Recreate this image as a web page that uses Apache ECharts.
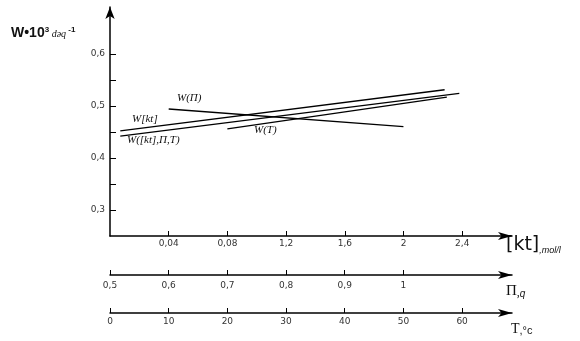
<!DOCTYPE html>
<html>
<head>
<meta charset="utf-8">
<script src="https://cdn.jsdelivr.net/npm/echarts@6/dist/echarts.min.js"></script>
<style>
  html, body { margin: 0; padding: 0; background: #fff; }
  #chart { width: 580px; height: 341px; }
</style>
</head>
<body>
<div id="chart"></div>
<script>
// Rate W (x10^3 dəq^-1) against catalyst concentration, pressure and temperature
const ktTicks = [0.4, 0.8, 1.2, 1.6, 2.0, 2.4];
const ktTickLabels = ['0,04', '0,08', '1,2', '1,6', '2', '2,4'];
const piTicks = [0.5, 0.6, 0.7, 0.8, 0.9, 1.0];
const piTickLabels = ['0,5', '0,6', '0,7', '0,8', '0,9', '1'];
const tTicks = [0, 10, 20, 30, 40, 50, 60];
const tTickLabels = ['0', '10', '20', '30', '40', '50', '60'];
const wTicks = [0.3, 0.35, 0.4, 0.45, 0.5, 0.55, 0.6];
const wLabelValues = [0.3, 0.4, 0.5, 0.6];

// each line as [x, W] pairs on its own horizontal scale
const wKt = [[0.07, 0.452], [2.28, 0.531]];          // W[kt]   on [kt] axis
const wCombined = [[0.07, 0.442], [2.38, 0.524]];    // W([kt],Π,T) on [kt] axis
const wPi = [[0.6, 0.494], [1.0, 0.460]];            // W(Π)    on Π axis
const wT = [[20, 0.456], [57.4, 0.517]];             // W(T)    on T axis

const axisFont = { fontFamily: 'DejaVu Sans', fontSize: 9, color: '#333' };
const lineStyle = { color: '#000', width: 1.5 };

function labelFrom(values, labels) {
  return v => {
    const i = values.findIndex(x => Math.abs(x - v) < 1e-6);
    return i >= 0 ? labels[i] : '';
  };
}

function bottomAxis(min, max, offset, ticks, labels, margin) {
  return {
    type: 'value', position: 'bottom', offset: offset, min: min, max: max,
    axisLine: { onZero: false, lineStyle: lineStyle, symbol: ['none', 'arrow'], symbolSize: [6, 14] },
    axisTick: { inside: true, length: 5, lineStyle: { color: '#000', width: 1 }, customValues: ticks },
    axisLabel: Object.assign({ margin: margin, customValues: ticks, formatter: labelFrom(ticks, labels) }, axisFont),
    splitLine: { show: false }
  };
}

const chart = echarts.init(document.getElementById('chart'), null, { renderer: 'canvas' });

function seriesLine(data, xi) {
  return {
    type: 'line', xAxisIndex: xi, data: data, symbol: 'none', silent: true,
    lineStyle: { color: '#000', width: 1.3 }
  };
}

chart.setOption({
  animation: false,
  backgroundColor: '#fff',
  grid: { left: 110, right: 68, top: 7, bottom: 105 },
  xAxis: [
    bottomAxis(0, 2.739, 0, ktTicks, ktTickLabels, 3),
    bottomAxis(0.5, 1.185, 39, piTicks, piTickLabels, 6),
    bottomAxis(0, 68.5, 77, tTicks, tTickLabels, 4)
  ],
  yAxis: {
    type: 'value', min: 0.25, max: 0.69,
    axisLine: { show: true, lineStyle: lineStyle, symbol: ['none', 'arrow'], symbolSize: [7, 12] },
    axisTick: { inside: true, length: 6, lineStyle: { color: '#000', width: 1 }, customValues: wTicks },
    axisLabel: Object.assign({
      margin: 5, customValues: wLabelValues,
      formatter: v => v.toFixed(1).replace('.', ',')
    }, axisFont),
    splitLine: { show: false }
  },
  series: [
    seriesLine(wKt, 0),
    seriesLine(wCombined, 0),
    seriesLine(wPi, 1),
    seriesLine(wT, 2)
  ],
  graphic: [
    // y-axis title
    { type: 'text', left: 11, top: 26, style: {
      text: '{b|W•10}{s|3}{u| dəq}{s| -1}',
      rich: {
        b: { fontFamily: 'Liberation Sans', fontWeight: 'bold', fontSize: 14, fill: '#111', verticalAlign: 'bottom' },
        s: { fontFamily: 'Liberation Sans', fontWeight: 'bold', fontSize: 8, fill: '#111', verticalAlign: 'top', padding: [0, 0, 6, 0] },
        u: { fontFamily: 'Liberation Serif', fontStyle: 'italic', fontSize: 10, fill: '#111', verticalAlign: 'bottom', padding: [0, 0, 1, 0] }
      }
    } },
    // horizontal axis names
    { type: 'text', left: 506, top: 236, style: {
      text: '{a|[kt]}{b|,mol/l}',
      rich: {
        a: { fontFamily: 'DejaVu Sans', fontSize: 19, fill: '#111', verticalAlign: 'bottom' },
        b: { fontFamily: 'Liberation Sans', fontStyle: 'italic', fontSize: 9, fill: '#111', verticalAlign: 'bottom' }
      }
    } },
    { type: 'text', left: 506, top: 284, style: {
      text: '{a|Π}{b|,}{c|q}',
      rich: {
        a: { fontFamily: 'Liberation Serif', fontSize: 15, fill: '#111', verticalAlign: 'bottom' },
        b: { fontFamily: 'Liberation Serif', fontSize: 12, fill: '#111', verticalAlign: 'bottom' },
        c: { fontFamily: 'Liberation Sans', fontStyle: 'italic', fontSize: 10, fill: '#111', verticalAlign: 'bottom' }
      }
    } },
    { type: 'text', left: 511, top: 322, style: {
      text: '{a|T}{b|,°c}',
      rich: {
        a: { fontFamily: 'Liberation Serif', fontSize: 14, fill: '#111', verticalAlign: 'bottom' },
        b: { fontFamily: 'Liberation Sans', fontSize: 11, fill: '#111', verticalAlign: 'bottom' }
      }
    } },
    // line captions
    { type: 'text', left: 177, top: 93, style: { text: 'W(Π)', font: 'italic 11px "Liberation Serif"', fill: '#111' } },
    { type: 'text', left: 132, top: 114, style: { text: 'W[kt]', font: 'italic 11px "Liberation Serif"', fill: '#111' } },
    { type: 'text', left: 127, top: 135, style: { text: 'W([kt],Π,T)', font: 'italic 11px "Liberation Serif"', fill: '#111' } },
    { type: 'text', left: 254, top: 125, style: { text: 'W(T)', font: 'italic 11px "Liberation Serif"', fill: '#111' } }
  ]
});
</script>
</body>
</html>
